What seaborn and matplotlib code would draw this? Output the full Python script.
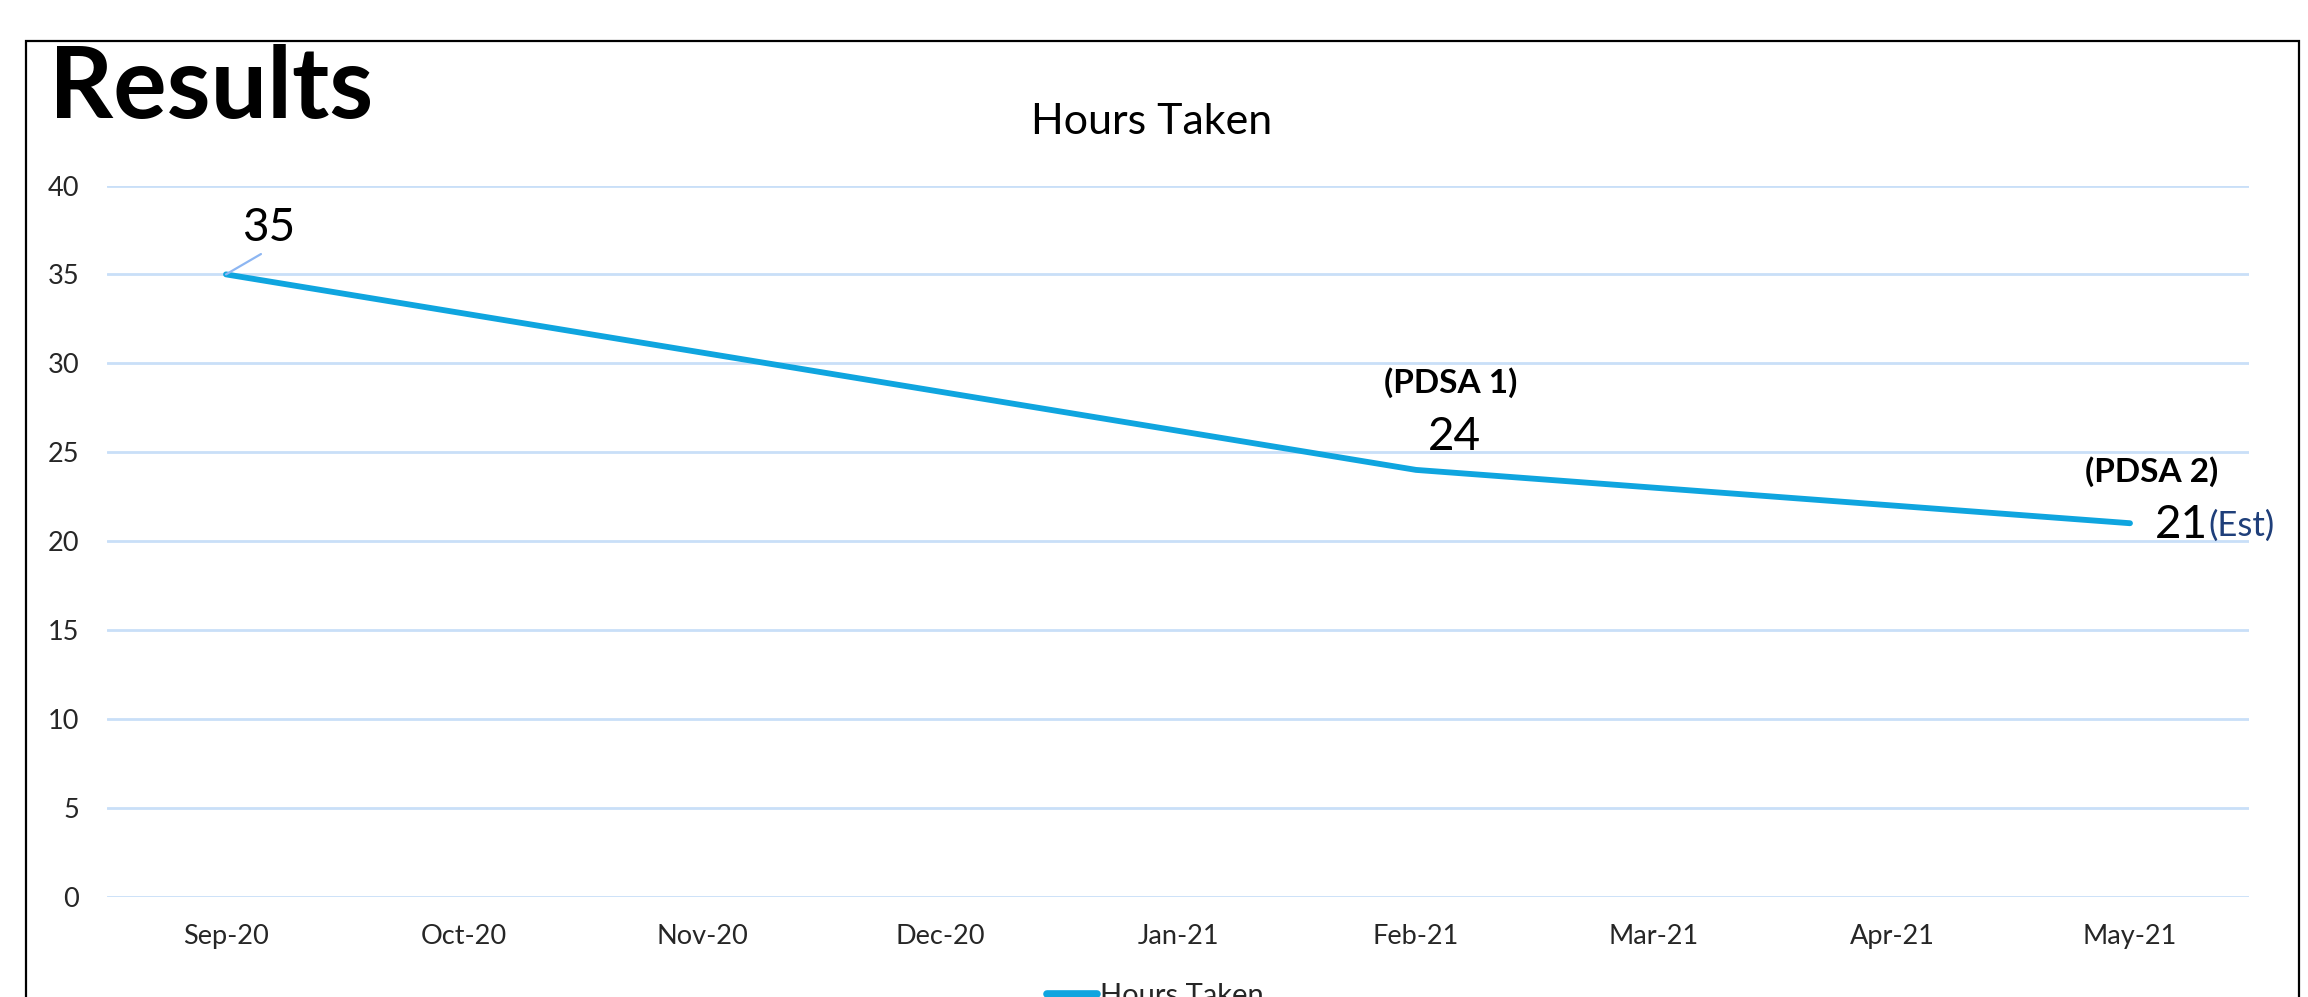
import pandas as pd
import matplotlib.pyplot as plt
import matplotlib.patches as patches
import seaborn as sns

# chart data
months = ["Sep-20", "Oct-20", "Nov-20", "Dec-20", "Jan-21",
          "Feb-21", "Mar-21", "Apr-21", "May-21"]
data_months = ["Sep-20", "Feb-21", "May-21"]
hours = [35, 24, 21]
y_ticks = [0, 5, 10, 15, 20, 25, 30, 35, 40]

LINE = "#0FA5DF"
GRID = "#C9DFF8"

sns.set_theme(style="white")
plt.rcParams['font.family'] = ['Lato', 'DejaVu Sans']

df = pd.DataFrame({
    "month": data_months,
    "pos": [months.index(m) for m in data_months],
    "hours": hours,
})

fig = plt.figure(figsize=(23.08, 9.97), dpi=100)
ax = fig.add_axes([0.04636, 0.1008, 0.92808, 0.71314])

sns.lineplot(data=df, x="pos", y="hours", ax=ax, color=LINE,
             linewidth=4.2, label="Hours Taken", legend=False, sort=False)

ax.set_xlim(-0.5, len(months) - 0.5)
ax.set_ylim(0, 40)
ax.set_xticks(range(len(months)))
ax.set_xticklabels(months)
ax.set_yticks(y_ticks)
ax.tick_params(axis='x', length=0, pad=20, labelsize=19.5)
ax.tick_params(axis='y', length=0, pad=20, labelsize=19.5)
ax.set_xlabel("")
ax.set_ylabel("")
ax.yaxis.grid(True, color=GRID, linewidth=2)
ax.xaxis.grid(False)
ax.set_axisbelow(True)
for s in ax.spines.values():
    s.set_visible(False)

# data labels
x0 = months.index("Sep-20")
ax.annotate(str(hours[0]), xy=(x0, hours[0]), xytext=(43, 46),
            textcoords="offset pixels", ha="center", va="center",
            fontsize=33, color="black",
            arrowprops=dict(arrowstyle="-", color="#8DB6F2", lw=1.6,
                            relpos=(0.5, 0.0), shrinkA=2, shrinkB=0))

x1 = months.index("Feb-21")
ax.annotate(str(hours[1]), xy=(x1, hours[1]), xytext=(38, 33),
            textcoords="offset pixels", ha="center", va="center",
            fontsize=33, color="black")
ax.annotate("(PDSA 1)", xy=(x1, hours[1]), xytext=(35, 87),
            textcoords="offset pixels", ha="center", va="center",
            fontsize=24, fontweight="bold", color="black")

x2 = months.index("May-21")
ax.annotate(str(hours[2]), xy=(x2, hours[2]), xytext=(51, -2),
            textcoords="offset pixels", ha="center", va="center",
            fontsize=33, color="black")
ax.annotate("(Est)", xy=(x2, hours[2]), xytext=(78, -3),
            textcoords="offset pixels", ha="left", va="center",
            fontsize=25, color="#1F3F7A")
ax.annotate("(PDSA 2)", xy=(x2, hours[2]), xytext=(22, 52),
            textcoords="offset pixels", ha="center", va="center",
            fontsize=24, fontweight="bold", color="black")

# titles
fig.text(0.4991, 1 - 122 / 997, "Hours Taken", ha="center", va="center",
         fontsize=31, color="black")
fig.text(49 / 2308, 1 - 118 / 997, "Results", ha="left", va="baseline",
         fontsize=72, fontweight="bold", color="black")

# outer frame (bottom edge runs off the picture)
fig.patches.append(patches.Rectangle(
    (26 / 2308, -0.05), (2299 - 26) / 2308, 1 - 41 / 997 + 0.05,
    transform=fig.transFigure, fill=False, edgecolor="black",
    linewidth=1.6, clip_on=False))

# legend, cut off at the bottom like the source
handles, labels = ax.get_legend_handles_labels()
leg = fig.legend(handles, labels, loc="center left",
                 bbox_to_anchor=(1021 / 2308, 1 - 996 / 997),
                 frameon=False, fontsize=21, handlelength=1.7,
                 handletextpad=0.1)
for h in leg.get_lines():
    h.set_linewidth(5.5)

fig.savefig("out.png", dpi=100)
